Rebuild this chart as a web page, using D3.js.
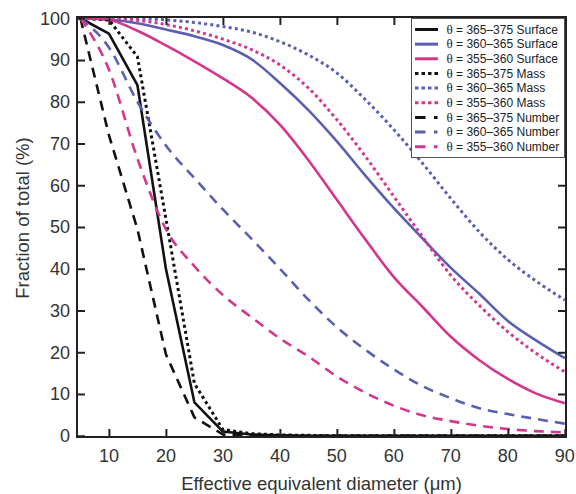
<!DOCTYPE html>
<html>
<head>
<meta charset="utf-8">
<script src="https://cdn.jsdelivr.net/npm/d3@7"></script>
<style>
  body { margin: 0; background: #fff; }
  svg { display: block; font-family: "Liberation Sans", Arial, sans-serif; }
  .tick-label { fill: #333; font-size: 18px; }
  .axis-title { fill: #333; font-size: 18.5px; }
  .legend text { fill: #222; font-size: 12px; }
</style>
</head>
<body>
<svg id="chart" width="576" height="494"></svg>
<script>
// diameter (µm) of each sample
const diameters = [5, 10, 15, 20, 25, 30, 35, 40, 45, 50, 55, 60, 65, 70, 75, 80, 85, 90];

// fraction of total (%) - surface
const surface365 = [100, 96.3, 84, 40, 8, 1, 0.3, 0.1, 0, 0, 0, 0, 0, 0, 0, 0, 0, 0];
const surface360 = [100, 99.7, 98.8, 97.3, 95.7, 93.6, 90.2, 84.5, 78, 70.5, 62.3, 54.5, 47.3, 40.2, 34, 27.5, 22.8, 18.6];
const surface355 = [100, 99.6, 97, 93.5, 89.7, 85.6, 81, 74.5, 66, 56.5, 47, 38, 30.9, 23.7, 18.1, 13.6, 10.1, 7.8];

// mass
const mass365 = [100, 99.6, 90.8, 52, 12.5, 1.5, 0.5, 0.2, 0.1, 0, 0, 0, 0, 0, 0, 0, 0, 0];
const mass360 = [100, 100, 99.9, 99.6, 99, 98, 96.7, 94.4, 91.2, 86.9, 80.5, 73.3, 65.3, 56.8, 48.8, 42.2, 37, 32.5];
const mass355 = [100, 100, 99.5, 98.5, 97, 95, 92.5, 88.8, 83.3, 75.7, 66.9, 57.3, 47.7, 38.4, 31.2, 24.9, 19.7, 15.3];

// number
const number365 = [100, 72, 49.5, 19.5, 4.4, 0.3, 0, 0, 0, 0, 0, 0, 0, 0, 0, 0, 0, 0];
const number360 = [100, 93, 80, 69.5, 61.7, 54.2, 47.2, 40, 32.6, 26, 20.6, 15.9, 11.9, 9, 6.6, 5.2, 4, 2.9];
const number355 = [100, 87.7, 66.4, 49.5, 40.6, 33.7, 28.4, 23.3, 19, 14.2, 10.3, 7.2, 4.9, 3.5, 2.4, 1.6, 1.1, 0.8];

const ranges = ['365–375', '360–365', '355–360'];
const xTicks = [10, 20, 30, 40, 50, 60, 70, 80, 90];
const yTicks = [0, 10, 20, 30, 40, 50, 60, 70, 80, 90, 100];

const colors = { '365–375': '#111111', '360–365': '#5b5fb3', '355–360': '#d5358c' };
const dashes = { Surface: null, Mass: '3,3.2', Number: '10,7' };
const legendDashes = { Surface: null, Mass: '3.5,3', Number: '10.5,8.5,3.5,20' };

const series = [
  { range: ranges[0], kind: 'Surface', values: surface365 },
  { range: ranges[1], kind: 'Surface', values: surface360 },
  { range: ranges[2], kind: 'Surface', values: surface355 },
  { range: ranges[0], kind: 'Mass', values: mass365 },
  { range: ranges[1], kind: 'Mass', values: mass360 },
  { range: ranges[2], kind: 'Mass', values: mass355 },
  { range: ranges[0], kind: 'Number', values: number365 },
  { range: ranges[1], kind: 'Number', values: number360 },
  { range: ranges[2], kind: 'Number', values: number355 },
];

const svg = d3.select('#chart');
const plotLeft = 77, plotRight = 566, plotTop = 17, plotBottom = 437;

const xScale = d3.scaleLinear().domain([4.4, 90.2]).range([plotLeft, plotRight]);
const yScale = d3.scaleLinear().domain([-0.3, 100.3]).range([plotBottom, plotTop]);

svg.append('clipPath').attr('id', 'plot-clip')
  .append('rect')
  .attr('x', plotLeft).attr('y', plotTop)
  .attr('width', plotRight - plotLeft).attr('height', plotBottom - plotTop);

// curves: the coarse black ones keep their kinks, the others are smooth
const line = d3.line()
  .x((d, i) => xScale(diameters[i]))
  .y(d => yScale(d));
const smoothLine = d3.line()
  .x((d, i) => xScale(diameters[i]))
  .y(d => yScale(d))
  .curve(d3.curveMonotoneX);

svg.append('g')
  .attr('clip-path', 'url(#plot-clip)')
  .selectAll('path')
  .data(series)
  .enter()
  .append('path')
  .attr('d', d => (d.range === ranges[0] ? line : smoothLine)(d.values))
  .attr('fill', 'none')
  .attr('stroke', d => colors[d.range])
  .attr('stroke-width', d => d.kind === 'Mass' ? 3 : 2.6)
  .attr('stroke-dasharray', d => dashes[d.kind])
  .attr('stroke-linejoin', 'round');

// axes, ticks inside on all four sides
const tickLen = 8;
const axisColor = '#222';

svg.append('g')
  .attr('transform', `translate(0, ${plotBottom})`)
  .call(d3.axisBottom(xScale).tickValues(xTicks).tickSize(-tickLen).tickFormat(''))
  .call(g => g.select('.domain').remove());
svg.append('g')
  .attr('transform', `translate(0, ${plotTop})`)
  .call(d3.axisTop(xScale).tickValues(xTicks).tickSize(-tickLen).tickFormat(''))
  .call(g => g.select('.domain').remove());
svg.append('g')
  .attr('transform', `translate(${plotLeft}, 0)`)
  .call(d3.axisLeft(yScale).tickValues(yTicks).tickSize(-tickLen).tickFormat(''))
  .call(g => g.select('.domain').remove());
svg.append('g')
  .attr('transform', `translate(${plotRight}, 0)`)
  .call(d3.axisRight(yScale).tickValues(yTicks).tickSize(-tickLen).tickFormat(''))
  .call(g => g.select('.domain').remove());

svg.selectAll('.tick line').attr('stroke', axisColor).attr('stroke-width', 2);

svg.append('rect')
  .attr('x', plotLeft).attr('y', plotTop)
  .attr('width', plotRight - plotLeft).attr('height', plotBottom - plotTop)
  .attr('fill', 'none')
  .attr('stroke', axisColor)
  .attr('stroke-width', 2);

// tick labels
svg.append('g').selectAll('text')
  .data(xTicks)
  .enter()
  .append('text')
  .attr('class', 'tick-label')
  .attr('x', d => xScale(d))
  .attr('y', 462)
  .attr('text-anchor', 'middle')
  .text(d => d);

svg.append('g').selectAll('text')
  .data(yTicks)
  .enter()
  .append('text')
  .attr('class', 'tick-label')
  .attr('x', 70)
  .attr('y', d => yScale(d))
  .attr('dy', '0.36em')
  .attr('text-anchor', 'end')
  .text(d => d);

// axis titles
svg.append('text')
  .attr('class', 'axis-title')
  .attr('x', (plotLeft + plotRight) / 2)
  .attr('y', 490)
  .attr('text-anchor', 'middle')
  .text('Effective equivalent diameter (μm)');

svg.append('text')
  .attr('class', 'axis-title')
  .attr('transform', 'translate(29, 218) rotate(-90)')
  .attr('text-anchor', 'middle')
  .text('Fraction of total (%)');

// legend
const legend = svg.append('g').attr('class', 'legend');
legend.append('rect')
  .attr('x', 411.5).attr('y', 18.5)
  .attr('width', 153).attr('height', 139)
  .attr('fill', '#fff')
  .attr('stroke', '#555')
  .attr('stroke-width', 1);

const rows = legend.selectAll('g.row')
  .data(series)
  .enter()
  .append('g')
  .attr('class', 'row')
  .attr('transform', (d, i) => `translate(0, ${29.5 + i * 14.65})`);

rows.append('line')
  .attr('x1', 415).attr('x2', 438)
  .attr('y1', 0).attr('y2', 0)
  .attr('stroke', d => colors[d.range])
  .attr('stroke-width', 3)
  .attr('stroke-dasharray', d => legendDashes[d.kind]);

const label = rows.append('text')
  .attr('x', 446.5)
  .attr('dy', '0.36em');
label.append('tspan')
  .attr('font-family', '"Liberation Serif", "DejaVu Serif", serif')
  .attr('font-size', 13)
  .text('θ');
label.append('tspan')
  .text(d => ` = ${d.range} ${d.kind}`);
</script>
</body>
</html>
